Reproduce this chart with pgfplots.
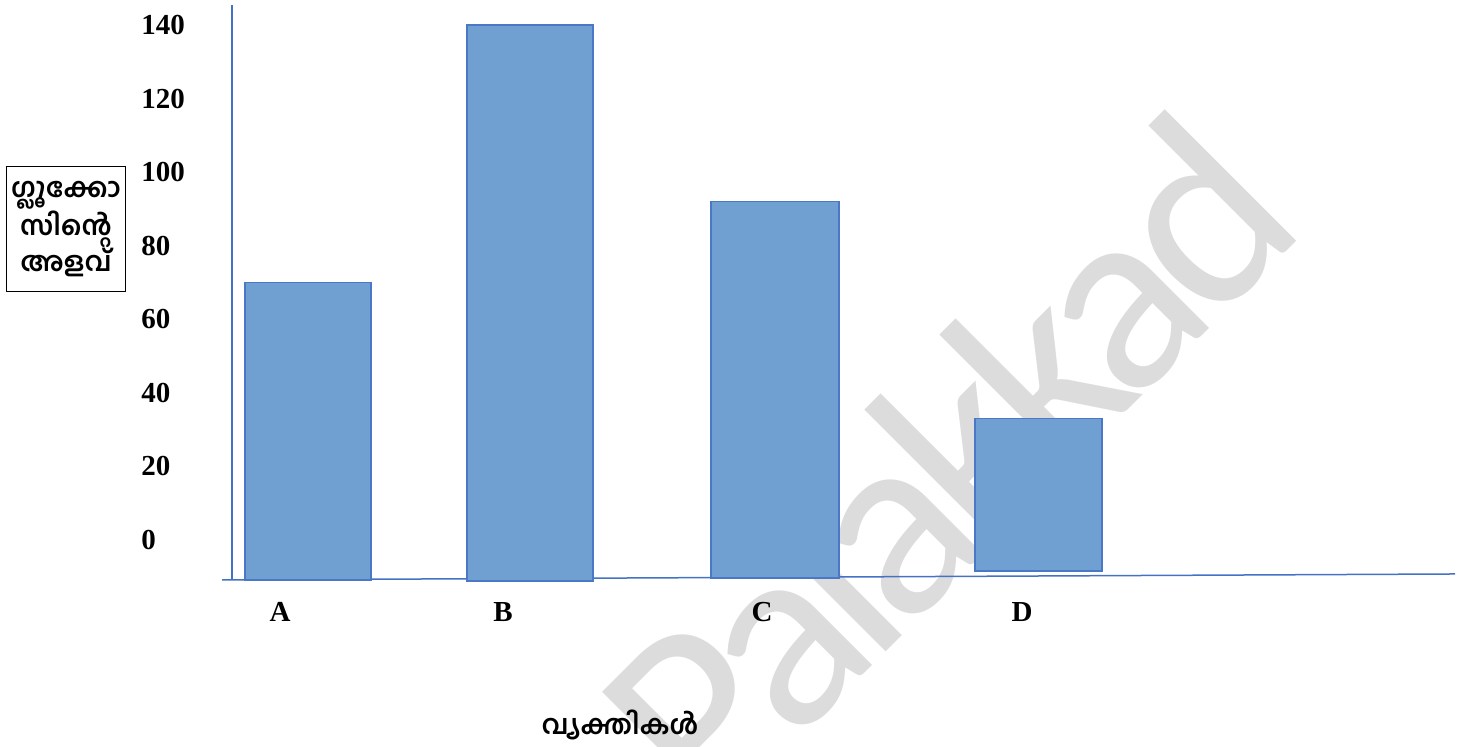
\documentclass[border=0pt]{standalone}
\usepackage{pgfplots}
\pgfplotsset{compat=1.18}
\usepackage{fontspec}
\setmainfont{Liberation Serif}
\newfontfamily\mlfont[Script=Malayalam]{Hind Kochi}
\newfontfamily\wmfont[LetterSpace=-6]{Carlito}

\definecolor{barfill}{RGB}{112,160,210}
\definecolor{baredge}{RGB}{74,120,198}
\definecolor{axisblue}{RGB}{68,114,196}
\definecolor{wmgray}{RGB}{220,220,220}

\begin{document}
\begin{tikzpicture}[x=1pt,y=1pt]
\begin{axis}[
  set layers,
  scale only axis,
  width=735pt, height=373.5pt,
  xmin=0, xmax=1470,
  ymin=-56.27, ymax=146.78,
  clip=false,
  axis line style={draw=none},
  tick style={draw=none},
  major tick length=0pt,
  xtick={280,503,762,1022},
  xticklabels={A,B,C,D},
  ytick={0,20,40,60,80,100,120,140},
  yticklabels={0,20,40,60,80,100,120,140},
  xticklabel style={anchor=center, inner sep=0pt, yshift=67.5pt,
    font=\fontsize{14.5}{16}\selectfont\bfseries},
  yticklabel style={anchor=west, inner sep=0pt, xshift=70.5pt,
    font=\fontsize{14.5}{16}\selectfont\bfseries},
  /pgf/number format/assume math mode=true,
]
% watermark behind everything else
\begin{pgfonlayer}{axis background}
\node[rotate=45, text=wmgray, font=\wmfont\fontsize{134}{140}\selectfont]
  at (axis cs:945,21) {Palakkad};
\end{pgfonlayer}

% axes
\draw[axisblue, line width=0.75pt] (axis cs:232,145.42) -- (axis cs:232,-10.87);
\draw[axisblue, line width=0.75pt] (axis cs:222,-10.87) -- (axis cs:1455,-9.24);

% bars: left, right, base, value
\addplot[fill=barfill, draw=baredge, line width=0.6pt]
  coordinates {(245,-10.87) (245,70) (371,70) (371,-10.87)} --cycle;
\addplot[fill=barfill, draw=baredge, line width=0.6pt]
  coordinates {(467,-11.14) (467,140) (593,140) (593,-11.14)} --cycle;
\addplot[fill=barfill, draw=baredge, line width=0.6pt]
  coordinates {(711,-10.33) (711,92) (839,92) (839,-10.33)} --cycle;
\addplot[fill=barfill, draw=baredge, line width=0.6pt]
  coordinates {(975,-8.43) (975,33) (1102,33) (1102,-8.43)} --cycle;

% axis titles
\node[draw, line width=0.6pt, minimum width=59.5pt, minimum height=62.5pt,
  align=center, inner sep=1pt,
  font=\mlfont\bfseries\fontsize{13.5}{18}\selectfont]
  at (axis cs:66,84.6) {ഗ്ലൂക്കോ\\സിന്റെ\\അളവ്};
\node[font=\mlfont\bfseries\fontsize{13.5}{18}\selectfont]
  at (axis cs:620,-50.3) {വ്യക്തികൾ};
\end{axis}
\pgfresetboundingbox
\useasboundingbox (current axis.south west) rectangle (current axis.north east);
\end{tikzpicture}
\end{document}
